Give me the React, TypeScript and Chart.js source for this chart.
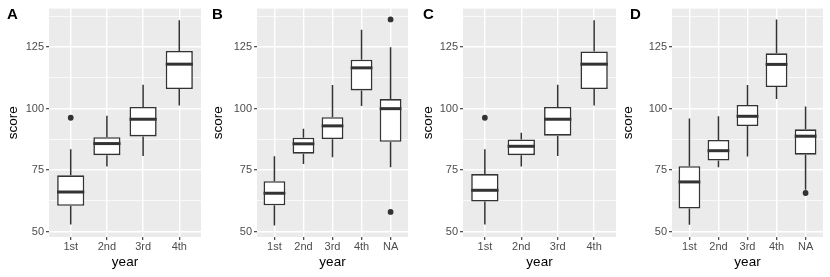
import React, { useEffect, useRef } from "react";
import { Chart, registerables } from "chart.js";

Chart.register(...registerables);

// ---------- data ----------
const catsA = ["1st", "2nd", "3rd", "4th"];
const loA = [52.9, 76.5, 80.7, 101.3];
const q1A = [60.5, 81.1, 88.7, 108.0];
const medA = [66.1, 85.8, 95.7, 118.1];
const q3A = [72.9, 88.4, 100.7, 123.5];
const hiA = [83.5, 97.1, 109.7, 136.0];
const outCatA = ["1st"];
const outValA = [96.3];

const catsB = ["1st", "2nd", "3rd", "4th", "NA"];
const loB = [52.5, 77.5, 80.2, 101.1, 76.2];
const q1B = [60.7, 81.7, 87.6, 107.4, 86.5];
const medB = [65.6, 85.7, 93.0, 116.6, 100.0];
const q3B = [70.5, 88.2, 96.5, 119.9, 103.9];
const hiB = [80.6, 91.8, 109.6, 132.1, 125.0];
const outCatB = ["NA", "NA"];
const outValB = [58.0, 136.3];

const catsC = ["1st", "2nd", "3rd", "4th"];
const loC = [52.9, 76.5, 80.7, 101.3];
const q1C = [62.2, 81.1, 89.0, 108.0];
const medC = [66.8, 84.7, 95.7, 118.1];
const q3C = [73.4, 87.5, 100.7, 123.3];
const hiC = [83.5, 90.2, 109.7, 136.0];
const outCatC = ["1st"];
const outValC = [96.3];

const catsD = ["1st", "2nd", "3rd", "4th", "NA"];
const loD = [52.8, 76.2, 80.5, 103.9, 67.0];
const q1D = [59.4, 78.9, 92.9, 108.8, 81.3];
const medD = [70.2, 82.9, 96.9, 118.0, 88.8];
const q3D = [76.6, 87.3, 101.5, 122.5, 91.6];
const hiD = [96.0, 96.9, 109.6, 136.3, 100.9];
const outCatD = ["NA"];
const outValD = [65.7];

const yMajor = [50, 75, 100, 125];
const yMinor = [62.5, 87.5, 112.5, 137.5];
const Y_MIN = 47.8;
const Y_MAX = 140.7;

const FONT = '"Liberation Sans", Arial, Helvetica, sans-serif';

type Panel = {
  tag: string;
  cats: string[];
  lo: number[];
  q1: number[];
  med: number[];
  q3: number[];
  hi: number[];
  outCat: string[];
  outVal: number[];
  left: number;
  width: number;
  yW: number;
  pr: number;
  titleC: number;
  tagX: number;
};

const panels: Panel[] = [
  { tag: "A", cats: catsA, lo: loA, q1: q1A, med: medA, q3: q3A, hi: hiA, outCat: outCatA, outVal: outValA, left: 0, width: 207, yW: 49, pr: 6, titleC: 13, tagX: 7 },
  { tag: "B", cats: catsB, lo: loB, q1: q1B, med: medB, q3: q3B, hi: hiB, outCat: outCatB, outVal: outValB, left: 207, width: 208, yW: 50, pr: 7, titleC: 11.5, tagX: 5 },
  { tag: "C", cats: catsC, lo: loC, q1: q1C, med: medC, q3: q3C, hi: hiC, outCat: outCatC, outVal: outValC, left: 415, width: 207, yW: 48, pr: 6, titleC: 13, tagX: 8 },
  { tag: "D", cats: catsD, lo: loD, q1: q1D, med: medD, q3: q3D, hi: hiD, outCat: outCatD, outVal: outValD, left: 622, width: 208, yW: 50, pr: 7, titleC: 6, tagX: 8 },
];

function makePlugin(p: Panel) {
  return {
    id: "boxExtras" + p.tag,
    beforeDraw(chart: any) {
      const { ctx, chartArea } = chart;
      ctx.save();
      ctx.fillStyle = "#EBEBEB";
      ctx.fillRect(chartArea.left, chartArea.top, chartArea.right - chartArea.left, chartArea.bottom - chartArea.top);
      ctx.restore();
    },
    beforeDatasetsDraw(chart: any) {
      const { ctx } = chart;
      const y = chart.scales.y;
      const meta = chart.getDatasetMeta(0);
      ctx.save();
      ctx.strokeStyle = "#333333";
      ctx.lineWidth = 1.5;
      meta.data.forEach((el: any, i: number) => {
        const x = el.x;
        ctx.beginPath();
        ctx.moveTo(x, y.getPixelForValue(p.hi[i]));
        ctx.lineTo(x, y.getPixelForValue(p.q3[i]));
        ctx.moveTo(x, y.getPixelForValue(p.q1[i]));
        ctx.lineTo(x, y.getPixelForValue(p.lo[i]));
        ctx.stroke();
      });
      ctx.restore();
    },
    afterDatasetsDraw(chart: any) {
      const { ctx } = chart;
      const y = chart.scales.y;
      const meta = chart.getDatasetMeta(0);
      ctx.save();
      ctx.strokeStyle = "#333333";
      ctx.lineWidth = 3;
      meta.data.forEach((el: any, i: number) => {
        const yy = y.getPixelForValue(p.med[i]);
        ctx.beginPath();
        ctx.moveTo(el.x - el.width / 2, yy);
        ctx.lineTo(el.x + el.width / 2, yy);
        ctx.stroke();
      });
      ctx.restore();
    },
    afterDraw(chart: any) {
      const { ctx } = chart;
      ctx.save();
      ctx.fillStyle = "#000000";
      ctx.font = "bold 15px " + FONT;
      ctx.textBaseline = "alphabetic";
      ctx.textAlign = "left";
      ctx.fillText(p.tag, p.tagX, 18.5);
      ctx.restore();
    },
  };
}

function PanelChart({ p }: { p: Panel }) {
  const ref = useRef<HTMLCanvasElement | null>(null);
  useEffect(() => {
    if (!ref.current) return;
    const n = p.cats.length;
    const chart = new Chart(ref.current, {
      type: "bar",
      data: {
        datasets: [
          {
            type: "bar",
            data: p.cats.map((_, i) => ({ x: i, y: [p.q1[i], p.q3[i]] })) as any,
            backgroundColor: "#FFFFFF",
            borderColor: "#333333",
            borderWidth: 1.6,
            borderSkipped: false,
            categoryPercentage: 1,
            barPercentage: 0.75,
            grouped: false,
          } as any,
          {
            type: "scatter",
            data: p.outCat.map((c, i) => ({ x: p.cats.indexOf(c), y: p.outVal[i] })),
            pointRadius: 2.9,
            pointBackgroundColor: "#333333",
            pointBorderWidth: 0,
            showLine: false,
          } as any,
        ],
      },
      options: {
        animation: false,
        responsive: false,
        events: [],
        layout: { padding: { top: 6, right: p.pr, bottom: 0, left: 0 } },
        plugins: { legend: { display: false }, tooltip: { enabled: false }, title: { display: false } },
        scales: {
          x: {
            type: "linear",
            min: -0.6,
            max: n - 0.4,
            offset: false,
            afterBuildTicks: (s: any) => {
              s.ticks = p.cats.map((_, i) => ({ value: i }));
            },
            afterFit: (s: any) => {
              s.height = 40;
            },
            ticks: {
              callback: (v: any) => p.cats[v as number],
              font: { family: FONT, size: 11 },
              color: "#4D4D4D",
              padding: 0,
              autoSkip: false,
              maxRotation: 0,
            },
            grid: { color: "#FFFFFF", lineWidth: 1.4, offset: false, tickColor: "#333333", tickLength: 3, tickWidth: 1.1 },
            border: { display: false },
            title: { display: true, text: "year", color: "#000000", font: { family: FONT, size: 13.5 }, padding: { top: 0, bottom: 7 } },
          } as any,
          y: {
            type: "linear",
            min: Y_MIN,
            max: Y_MAX,
            afterBuildTicks: (s: any) => {
              s.ticks = [...yMajor, ...yMinor].sort((a, b) => a - b).map((v) => ({ value: v }));
            },
            afterFit: (s: any) => {
              s.width = p.yW;
            },
            ticks: {
              callback: (v: any) => (yMajor.includes(v) ? String(v) : ""),
              font: { family: FONT, size: 11 },
              color: "#4D4D4D",
              padding: 2,
            },
            grid: {
              color: "#FFFFFF",
              lineWidth: (c: any) => (c.tick && yMajor.includes(c.tick.value) ? 1.4 : 0.7),
              tickColor: (c: any) => (c.tick && yMajor.includes(c.tick.value) ? "#333333" : "rgba(0,0,0,0)"),
              tickLength: 3,
              tickWidth: 1.1,
            },
            border: { display: false },
            title: { display: true, text: "score", color: "#000000", font: { family: FONT, size: 13.5 }, padding: { top: p.titleC - 8.1, bottom: 0 } },
          } as any,
        },
      },
      plugins: [makePlugin(p)],
    } as any);
    return () => chart.destroy();
  }, [p]);
  return (
    <canvas
      ref={ref}
      width={p.width}
      height={277}
      style={{ position: "absolute", left: p.left, top: 0, width: p.width, height: 277 }}
    />
  );
}

export default function App() {
  return (
    <div style={{ position: "fixed", left: 0, top: 0, width: 830, height: 277, background: "#FFFFFF" }}>
      {panels.map((p) => (
        <PanelChart key={p.tag} p={p} />
      ))}
    </div>
  );
}
